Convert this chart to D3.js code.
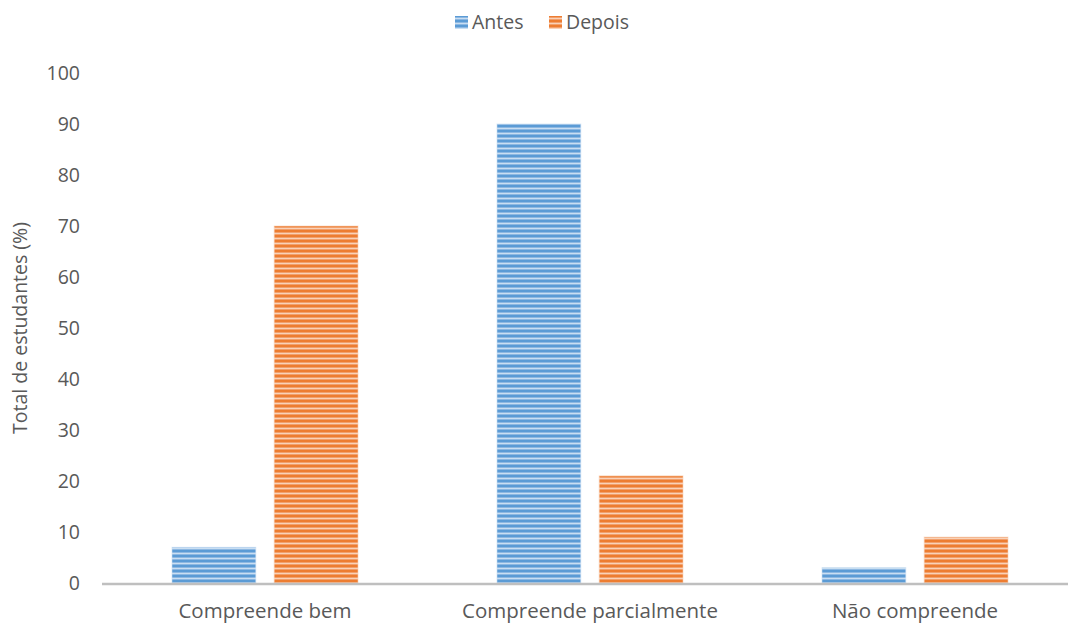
<!DOCTYPE html>
<html><head><meta charset="utf-8">
<script src="https://cdn.jsdelivr.net/npm/d3@7"></script>
<style>body{margin:0;background:#fff}</style>
</head><body>
<svg id="c" width="1068" height="624"></svg>
<script>
const categories = ["Compreende bem", "Compreende parcialmente", "Não compreende"];
const seriesNames = ["Antes", "Depois"];
const antes = [7, 90, 3];
const depois = [70, 21, 9];
const yTicks = [0, 10, 20, 30, 40, 50, 60, 70, 80, 90, 100];
const colors = ["#5B9BD5", "#ED7D31"];
const mids = ["#8DB8E2", "#F2A06C"];
const lights = ["#C9DEF2", "#F9D2B8"];

const svg = d3.select("#c");
const font = "'Open Sans', sans-serif";
const fs = 19.5;
const defs = svg.append("defs");
colors.forEach((c, i) => {
  const p = defs.append("pattern").attr("id", "pat" + i)
    .attr("patternUnits", "userSpaceOnUse").attr("width", 8).attr("height", 5);
  p.append("rect").attr("width", 8).attr("height", 5).attr("fill", c);
  p.append("rect").attr("y", 2).attr("width", 8).attr("height", 1).attr("fill", mids[i]);
  p.append("rect").attr("y", 3).attr("width", 8).attr("height", 1).attr("fill", lights[i]);
  p.append("rect").attr("y", 4).attr("width", 8).attr("height", 1).attr("fill", mids[i]);
});

const x0 = d3.scaleBand().domain(categories).range([102.5, 1077.5]);
const x1 = d3.scaleBand().domain(seriesNames).range([69.5, 255.5]).paddingInner(0.18);
const y = d3.scaleLinear().domain([0, 100]).range([583, 73]);

const data = categories.map((c, i) => ({cat: c, vals: [antes[i], depois[i]]}));

// y tick labels
svg.append("g").selectAll("text").data(yTicks).join("text")
  .attr("x", 80).attr("y", d => y(d)).attr("dy", "0.35em")
  .attr("text-anchor", "end").attr("font-family", font).attr("font-size", fs)
  .attr("fill", "#595959").text(d => d);

// bars
const g = svg.append("g").selectAll("g").data(data).join("g")
  .attr("transform", d => `translate(${x0(d.cat)},0)`);
g.selectAll("rect").data(d => d.vals.map((v, i) => ({s: seriesNames[i], v, i}))).join("rect")
  .attr("x", d => x1(d.s)).attr("width", x1.bandwidth())
  .attr("y", d => y(d.v)).attr("height", d => y(0) - y(d.v))
  .attr("fill", d => `url(#pat${d.i})`)
  .attr("stroke", d => lights[d.i]).attr("stroke-width", 1).attr("stroke-opacity", 0.6);

// axis line
svg.append("line").attr("x1", 102).attr("x2", 1068).attr("y1", y(0) + 1).attr("y2", y(0) + 1)
  .attr("stroke", "#BFBFBF").attr("stroke-width", 2.5);

// x labels
svg.append("g").selectAll("text").data(categories).join("text")
  .attr("x", d => x0(d) + x0.bandwidth() / 2).attr("y", 611).attr("dy", "0.35em")
  .attr("text-anchor", "middle").attr("font-family", font).attr("font-size", 20.5)
  .attr("fill", "#595959").text(d => d);

// y title
svg.append("text").attr("transform", "translate(20,328) rotate(-90)")
  .attr("dy", "0.35em").attr("text-anchor", "middle").attr("font-family", font)
  .attr("font-size", fs).attr("fill", "#595959").text("Total de estudantes (%)");

// legend
const leg = svg.append("g");
const legX = [455, 549];
seriesNames.forEach((s, i) => {
  leg.append("rect").attr("x", legX[i]).attr("y", 16).attr("width", 13).attr("height", 13)
    .attr("fill", `url(#pat${i})`);
  leg.append("text").attr("x", legX[i] + 17).attr("y", 22).attr("dy", "0.35em")
    .attr("font-family", font).attr("font-size", fs).attr("fill", "#595959").text(s);
});
</script>
</body></html>
